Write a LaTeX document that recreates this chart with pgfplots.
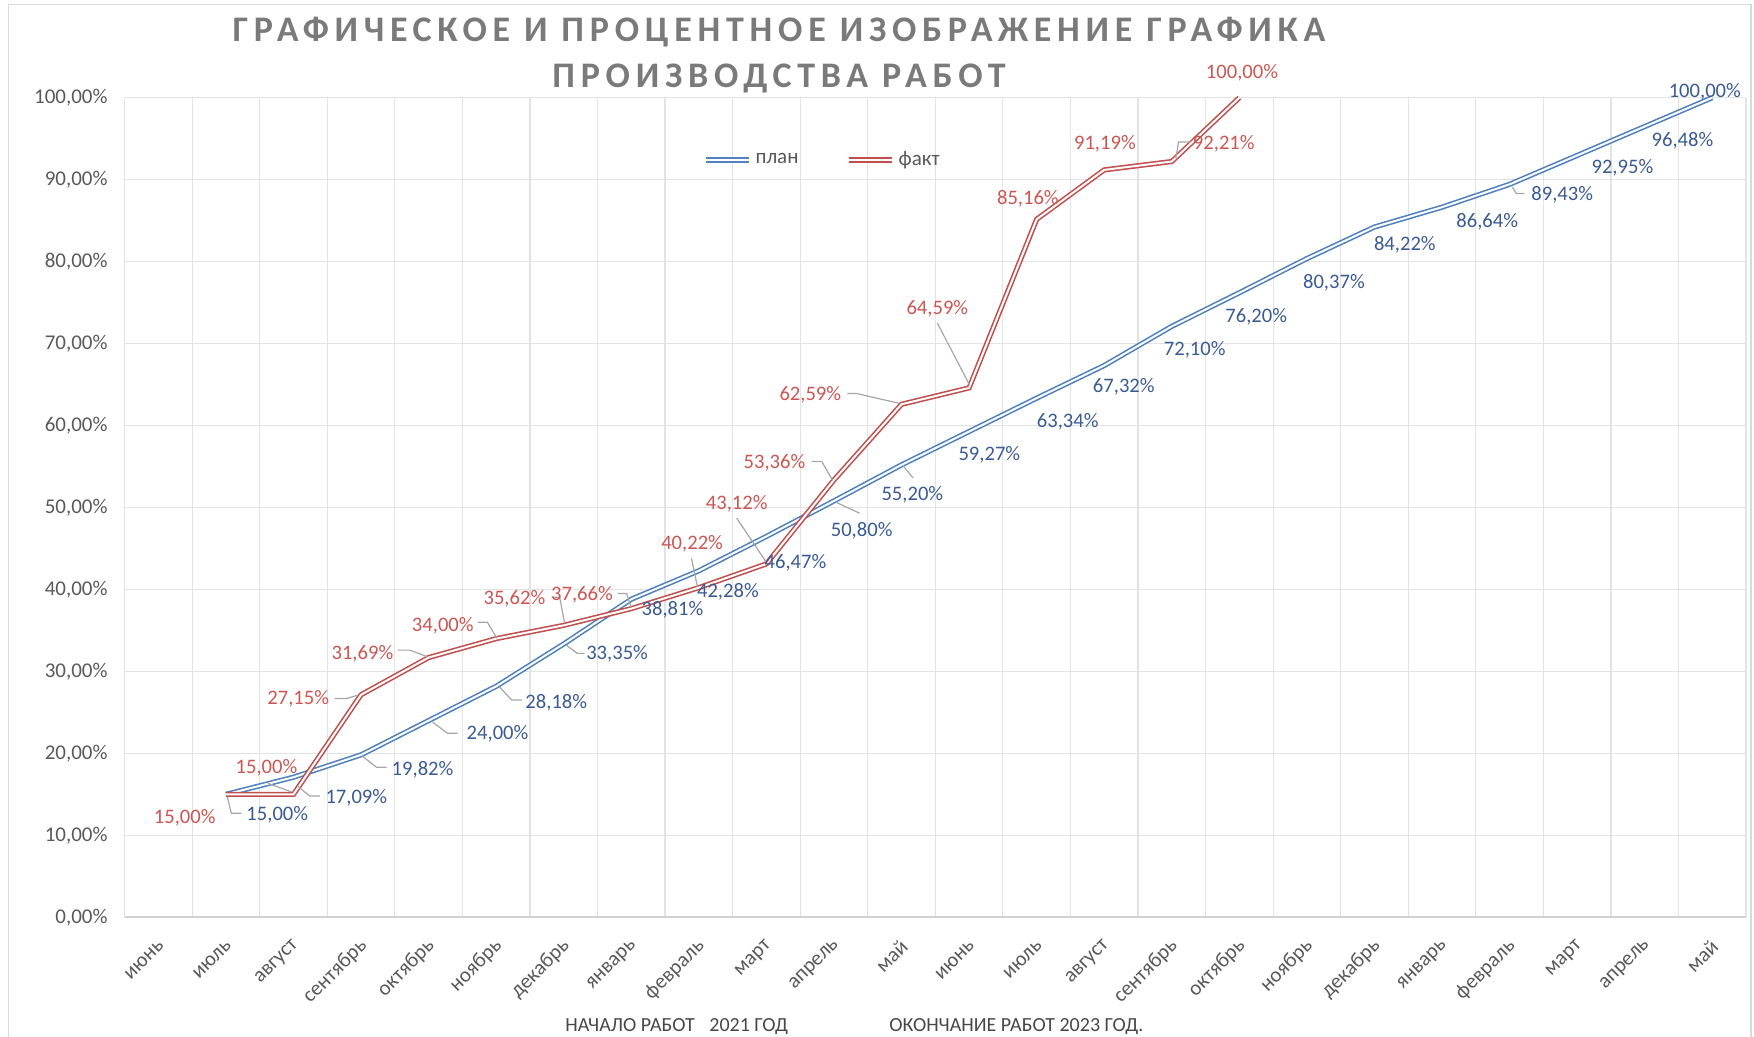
\documentclass[border=0pt]{standalone}
\usepackage{pgfplots}
\pgfplotsset{compat=1.18}
\usepackage{fontspec}
\setmainfont{Carlito}
\newfontfamily\titlefont{Carlito}[LetterSpace=16]
\definecolor{planblue}{HTML}{4F81BD}
\definecolor{factred}{HTML}{C0504D}
\definecolor{lblblue}{HTML}{3A5A94}
\definecolor{lblred}{HTML}{CB5652}
\definecolor{gridgray}{HTML}{E3E3E3}
\definecolor{axisgray}{HTML}{D0D0D0}
\definecolor{tickgray}{HTML}{595959}
\definecolor{leadgray}{HTML}{A6A6A6}
\definecolor{titlegray}{HTML}{7A7A7A}
\definecolor{bordergray}{HTML}{D9D9D9}
\begin{document}
\begin{tikzpicture}[
  lb/.style={text=lblblue, font=\fontsize{10.3}{12}\selectfont, inner sep=0pt},
  lr/.style={text=lblred, font=\fontsize{10.3}{12}\selectfont, inner sep=0pt},
  ld/.style={draw=leadgray, line width=0.6pt}]
\path[use as bounding box] (0,0) rectangle (877pt,518.5pt);
\draw[bordergray, line width=0.8pt] (4.3pt,-2pt) rectangle (875.5pt,516.2pt);
\node[anchor=base, font={\titlefont\bfseries\fontsize{18}{20}\selectfont}, text=titlegray, inner sep=0pt] at (389.5pt,497.6pt) {ГРАФИЧЕСКОЕ И ПРОЦЕНТНОЕ ИЗОБРАЖЕНИЕ ГРАФИКА};
\node[anchor=base, font={\titlefont\bfseries\fontsize{18}{20}\selectfont}, text=titlegray, inner sep=0pt] at (389.5pt,474.9pt) {ПРОИЗВОДСТВА РАБОТ};
\node[anchor=base west, font=\fontsize{10}{12}\selectfont, text=tickgray!80!black, inner sep=0pt] at (282.5pt,2.5pt) {НАЧАЛО РАБОТ};
\node[anchor=base west, font=\fontsize{10}{12}\selectfont, text=tickgray!80!black, inner sep=0pt] at (354.5pt,2.5pt) {2021 ГОД};
\node[anchor=base west, font=\fontsize{10}{12}\selectfont, text=tickgray!80!black, inner sep=0pt] at (444.5pt,2.5pt) {ОКОНЧАНИЕ РАБОТ 2023 ГОД.};
\begin{axis}[
  at={(62.3pt,59.85pt)}, anchor=south west,
  scale only axis, width=810.7pt, height=409.8pt,
  xmin=-0.5, xmax=23.5, ymin=0, ymax=100,
  clip=false,
  axis x line*=bottom, axis y line*=left,
  x axis line style={draw=axisgray, line width=0.8pt, -},
  y axis line style={draw=none},
  major tick length=0pt, minor tick length=0pt,
  xtick={0,...,23},
  xticklabels={июнь,июль,август,сентябрь,октябрь,ноябрь,декабрь,январь,февраль,март,апрель,май,июнь,июль,август,сентябрь,октябрь,ноябрь,декабрь,январь,февраль,март,апрель,май},
  minor xtick={-0.5,0.5,...,23.5},
  xminorgrids=true,
  ytick={0,10,...,100},
  yticklabels={{0,00\%},{10,00\%},{20,00\%},{30,00\%},{40,00\%},{50,00\%},{60,00\%},{70,00\%},{80,00\%},{90,00\%},{100,00\%}},
  ymajorgrids=true,
  major grid style={draw=gridgray, line width=0.6pt},
  minor grid style={draw=gridgray, line width=0.6pt},
  yticklabel style={anchor=east, inner sep=0pt, xshift=-8.3pt, font=\fontsize{10.5}{12}\selectfont, text=tickgray},
  xticklabel style={rotate=45, anchor=east, inner sep=0pt, xshift=-8pt, yshift=-10pt, font=\fontsize{10.5}{12}\selectfont, text=tickgray},
  legend style={at={(0.3567,0.924)}, anchor=west, draw=none, fill=none, inner sep=0pt,
    font=\fontsize{10.5}{12}\selectfont, text=tickgray, legend columns=2,
    nodes={inner xsep=2pt, inner ysep=1pt},
    /tikz/every even column/.append style={column sep=22pt}},
  legend image code/.code={\draw[#1] (0pt,0pt) -- (21.5pt,0pt);},
]
\addplot[draw=planblue, line width=0.8pt, double=white, double distance=1pt, no markers] coordinates {
(1,15)(2,17.09)(3,19.82)(4,24)(5,28.18)(6,33.35)(7,38.81)(8,42.28)(9,46.47)(10,50.80)(11,55.20)(12,59.27)(13,63.34)(14,67.32)(15,72.10)(16,76.20)(17,80.37)(18,84.22)(19,86.64)(20,89.43)(21,92.95)(22,96.48)(23,100)};
\addlegendentry{план}
\addplot[draw=factred, line width=0.8pt, double=white, double distance=1pt, no markers] coordinates {
(1,15)(2,15)(3,27.15)(4,31.69)(5,34)(6,35.62)(7,37.66)(8,40.22)(9,43.12)(10,53.36)(11,62.59)(12,64.59)(13,85.16)(14,91.19)(15,92.21)(16,100)};
\addlegendentry{факт}
% leader lines
\draw[ld] (axis cs:1.02,14.7) -- (axis cs:1.08,12.7) -- (axis cs:1.23,12.7);
\draw[ld] (axis cs:2.06,16.0) -- (axis cs:2.24,14.8) -- (axis cs:2.39,14.8);
\draw[ld] (axis cs:3.02,19.65) -- (axis cs:3.23,18.3) -- (axis cs:3.38,18.3);
\draw[ld] (axis cs:4.06,23.8) -- (axis cs:4.28,22.45) -- (axis cs:4.43,22.45);
\draw[ld] (axis cs:5.05,28.1) -- (axis cs:5.23,26.5) -- (axis cs:5.38,26.5);
\draw[ld] (axis cs:6.04,33.2) -- (axis cs:6.2,32.2) -- (axis cs:6.31,32.2);
\draw[ld] (axis cs:10.04,50.6) -- (axis cs:10.38,49.3);
\draw[ld] (axis cs:11.02,55.15) -- (axis cs:11.17,53.6);
\draw[ld] (axis cs:20.04,89.1) -- (axis cs:20.10,88.3) -- (axis cs:20.22,88.3);
\draw[ld] (axis cs:1.62,16.35) -- (axis cs:1.97,15.3);
\draw[ld] (axis cs:2.61,26.7) -- (axis cs:2.79,26.7) -- (axis cs:2.95,27.1);
\draw[ld] (axis cs:3.54,32.6) -- (axis cs:3.72,32.6) -- (axis cs:3.98,31.8);
\draw[ld] (axis cs:4.73,36.0) -- (axis cs:4.87,36.0) -- (axis cs:5.01,34.05);
\draw[ld] (axis cs:5.82,39.05) -- (axis cs:5.94,39.05) -- (axis cs:6.01,36.0);
\draw[ld] (axis cs:6.80,39.5) -- (axis cs:6.93,39.5) -- (axis cs:7.0,37.8);
\draw[ld] (axis cs:7.89,43.8) -- (axis cs:7.98,40.3);
\draw[ld] (axis cs:8.56,48.7) -- (axis cs:9.0,43.3);
\draw[ld] (axis cs:9.67,55.6) -- (axis cs:9.82,55.6) -- (axis cs:9.98,53.3);
\draw[ld] (axis cs:10.20,63.9) -- (axis cs:10.34,63.9) -- (axis cs:10.97,62.7);
\draw[ld] (axis cs:11.53,72.5) -- (axis cs:12.01,64.9);
\draw[ld] (axis cs:15.06,92.6) -- (axis cs:15.10,94.6) -- (axis cs:15.28,94.6);
% plan labels
\node[lb] at (axis cs:1.76,12.45) {15,00\%};
\node[lb] at (axis cs:2.93,14.6) {17,09\%};
\node[lb] at (axis cs:3.91,18.05) {19,82\%};
\node[lb] at (axis cs:5.02,22.45) {24,00\%};
\node[lb] at (axis cs:5.89,26.2) {28,18\%};
\node[lb] at (axis cs:6.79,32.1) {33,35\%};
\node[lb] at (axis cs:7.61,37.5) {38,81\%};
\node[lb] at (axis cs:8.43,39.7) {42,28\%};
\node[lb] at (axis cs:9.43,43.3) {46,47\%};
\node[lb] at (axis cs:10.41,47.2) {50,80\%};
\node[lb] at (axis cs:11.16,51.5) {55,20\%};
\node[lb] at (axis cs:12.30,56.4) {59,27\%};
\node[lb] at (axis cs:13.46,60.4) {63,34\%};
\node[lb] at (axis cs:14.29,64.7) {67,32\%};
\node[lb] at (axis cs:15.34,69.2) {72,10\%};
\node[lb] at (axis cs:16.25,73.3) {76,20\%};
\node[lb] at (axis cs:17.40,77.4) {80,37\%};
\node[lb] at (axis cs:18.45,82.0) {84,22\%};
\node[lb] at (axis cs:19.67,84.8) {86,64\%};
\node[lb] at (axis cs:20.78,88.1) {89,43\%};
\node[lb] at (axis cs:21.67,91.4) {92,95\%};
\node[lb] at (axis cs:22.56,94.8) {96,48\%};
\node[lb] at (axis cs:22.89,100.7) {100,00\%};
% fact labels
\node[lr] at (axis cs:0.39,12.1) {15,00\%};
\node[lr] at (axis cs:1.60,18.2) {15,00\%};
\node[lr] at (axis cs:2.07,26.6) {27,15\%};
\node[lr] at (axis cs:3.02,32.2) {31,69\%};
\node[lr] at (axis cs:4.21,35.6) {34,00\%};
\node[lr] at (axis cs:5.27,38.9) {35,62\%};
\node[lr] at (axis cs:6.27,39.3) {37,66\%};
\node[lr] at (axis cs:7.90,45.6) {40,22\%};
\node[lr] at (axis cs:8.56,50.5) {43,12\%};
\node[lr] at (axis cs:9.12,55.4) {53,36\%};
\node[lr] at (axis cs:9.65,63.7) {62,59\%};
\node[lr] at (axis cs:11.53,74.3) {64,59\%};
\node[lr] at (axis cs:12.87,87.7) {85,16\%};
\node[lr] at (axis cs:14.01,94.4) {91,19\%};
\node[lr] at (axis cs:15.77,94.4) {92,21\%};
\node[lr] at (axis cs:16.04,103.0) {100,00\%};
\end{axis}
\end{tikzpicture}
\end{document}
